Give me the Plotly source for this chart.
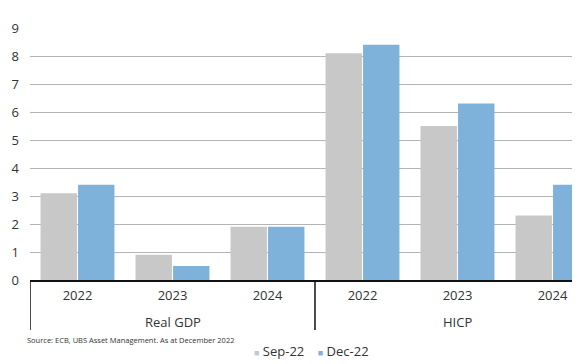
import plotly.graph_objects as go

groups = ["Real GDP", "HICP"]
years = ["2022", "2023", "2024"]
x_labels = years + years
sep22 = [3.1, 0.9, 1.9, 8.1, 5.5, 2.3]
dec22 = [3.4, 0.5, 1.9, 8.4, 6.3, 3.4]
y_ticks = list(range(0, 10))
series_names = ["Sep-22", "Dec-22"]
series_colors = ["#c8c8c8", "#7fb2da"]
source_text = "Source: ECB, UBS Asset Management. As at December 2022"

xpos = list(range(len(x_labels)))
FONT = "Open Sans, Noto Sans, sans-serif"
TXT = "#333333"

fig = go.Figure()
for name, vals, col in zip(series_names, [sep22, dec22], series_colors):
    fig.add_trace(go.Bar(x=xpos, y=vals, name=name, marker_color=col,
                         marker_line_width=0, showlegend=False))

# page body has an 8px default margin -> compensate in the figure margins
fig.update_layout(
    width=580, height=364,
    margin=dict(l=22, r=13, t=20, b=92, autoexpand=False),
    paper_bgcolor="white", plot_bgcolor="white",
    barmode="group", bargap=0.21, bargroupgap=0.03,
    font=dict(family=FONT, size=13, color=TXT),
    showlegend=False,
)
fig.update_xaxes(
    range=[-0.5, 5.237], tickmode="array", tickvals=xpos, ticktext=x_labels,
    showgrid=False, showline=True, linecolor="#111111", linewidth=2,
    ticks="", tickfont=dict(size=13, color=TXT), ticklabelstandoff=2,
    zeroline=False, automargin=False,
)
fig.update_yaxes(
    range=[0, 9], tickmode="array", tickvals=y_ticks,
    showgrid=True, gridcolor="#b4b4b4", gridwidth=1,
    zeroline=False, showline=False, ticks="",
    tickfont=dict(size=13, color=TXT), ticklabelstandoff=10, automargin=False,
)

# category separator lines
for xv in [-0.5, 2.5]:
    fig.add_shape(type="line", xref="x", yref="paper", x0=xv, x1=xv,
                  y0=0, y1=-0.198, line=dict(color="#111111", width=1.5))

# group labels
for i, g in enumerate(groups):
    fig.add_annotation(x=1 + 3 * i, xref="x", y=-0.165, yref="paper",
                       text=g, showarrow=False, font=dict(size=13, color=TXT),
                       yanchor="middle")

fig.add_annotation(x=-0.009, xref="paper", y=-0.238, yref="paper", text=source_text,
                   showarrow=False, xanchor="left", yanchor="middle",
                   font=dict(size=7.5, color=TXT))

# legend (small square markers + labels)
legend_text = "    ".join(
    f"<span style='font-size:9px;color:{c}'>■</span> {n}"
    for n, c in zip(series_names, series_colors))
fig.add_annotation(x=0.5156, xref="paper", y=-0.282, yref="paper", text=legend_text,
                   showarrow=False, xanchor="center", yanchor="middle",
                   font=dict(size=13, color=TXT))

fig.write_html("out.html")
